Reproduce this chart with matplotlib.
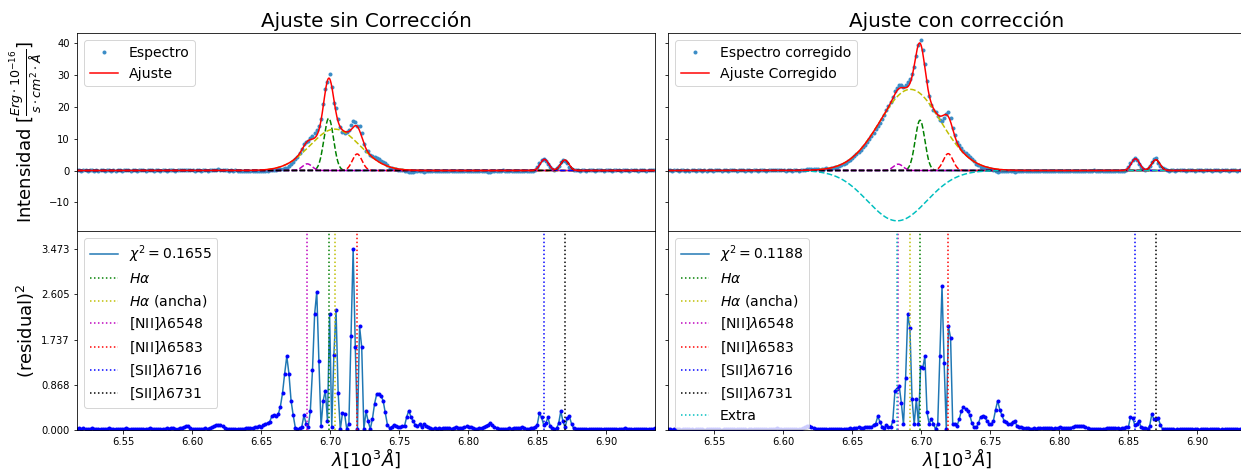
import numpy as np
import matplotlib
matplotlib.use("Agg")
import matplotlib.pyplot as plt

# Wavelength grid of the spectrum (units of 10^3 Angstrom)
lam_min, lam_max, n_pix = 6.5167, 6.9355, 271

line_labels = [r"$H\alpha$", r"$H\alpha$ (ancha)", r"[NII]$\lambda$6548",
               r"[NII]$\lambda$6583", r"[SII]$\lambda$6716", r"[SII]$\lambda$6731", "Extra"]
line_colors = ["g", "y", "m", "r", "b", "k", "c"]

# Gaussian components of the fit without correction
cen_sin = [6.6991, 6.7035, 6.6835, 6.7197, 6.8554, 6.8701]
amp_sin = [16.4, 13.0, 2.1, 5.2, 3.5, 3.3]
sig_sin = [0.0035, 0.0180, 0.0035, 0.0035, 0.0030, 0.0030]

# Gaussian components of the corrected fit (last one is the extra component)
cen_con = [6.6993, 6.6923, 6.6835, 6.7197, 6.8554, 6.8701, 6.6827]
amp_con = [15.8, 25.5, 2.0, 5.3, 3.7, 3.4, -15.8]
sig_con = [0.0035, 0.0220, 0.0035, 0.0035, 0.0030, 0.0030, 0.0214]

# Residuals (spectrum - fit) per pixel, uncorrected fit
resid_sin = [
    0.15, 0.17, -0.12, 0.18, 0.16, -0.14, 0.13, 0.17, -0.15, 0.12,
    -0.16, 0.14, 0.12, -0.10, 0.15, 0.17, -0.13, 0.12, -0.14, 0.11,
    0.13, -0.12, 0.15, 0.18, 0.14, -0.12, 0.10, 0.13, -0.15, 0.12,
    0.16, 0.12, -0.14, 0.15, 0.18, 0.16, -0.12, 0.11, 0.13, -0.10,
    0.12, 0.15, -0.17, 0.16, 0.19, 0.18, -0.15, 0.14, 0.17, 0.21,
    0.24, 0.27, 0.26, 0.21, 0.15, -0.13, 0.12, 0.16, -0.14, 0.15,
    0.17, -0.16, 0.19, 0.22, 0.27, 0.31, 0.32, 0.30, 0.26, 0.20,
    0.15, -0.12, 0.13, -0.11, 0.12, -0.14, -0.15, -0.12, -0.16, -0.18,
    -0.17, -0.20, -0.19, -0.22, -0.24, -0.26, -0.25, -0.30, -0.35, -0.36,
    -0.40, -0.51, -0.54, -0.51, -0.55, -0.67, -0.84, -1.04, -1.19, -1.04,
    -0.75, -0.53, -0.20, -0.10, 0.17, 0.24, 0.53, 0.35, -0.22, 0.61,
    1.07, 1.49, 1.63, 1.15, 0.28, 0.75, 0.87, -0.42, 1.49, -0.24,
    -1.20, 1.52, 0.84, 0.10, -0.57, -0.56, 0.14, 0.35, 1.34, 1.8637,
    1.26, 0.14, 1.41, 1.26, -0.10, -0.60, 0.41, 0.14, 0.46, 0.71,
    0.83, 0.83, 0.81, 0.75, 0.58, 0.32, -0.20, -0.22, -0.32, -0.28,
    -0.22, -0.24, -0.26, -0.28, -0.50, -0.61, -0.50, -0.41, -0.32, -0.28,
    -0.33, -0.22, -0.35, -0.26, -0.22, -0.17, -0.16, -0.18, -0.15, -0.17,
    -0.16, -0.19, -0.20, -0.18, -0.17, -0.16, -0.20, -0.22, -0.20, -0.18,
    -0.20, -0.24, -0.26, -0.25, -0.22, -0.18, -0.16, -0.15, -0.17, -0.20,
    -0.24, -0.28, -0.32, -0.36, -0.30, -0.24, -0.18, -0.14, -0.12, 0.11,
    -0.13, -0.15, -0.17, -0.16, -0.20, -0.18, -0.19, -0.17, -0.22, -0.20,
    -0.16, -0.14, -0.18, -0.20, -0.24, 0.32, 0.57, 0.49, 0.32, -0.37,
    -0.49, -0.28, -0.17, -0.14, 0.17, 0.36, 0.60, 0.41, -0.22, -0.47,
    -0.51, -0.35, -0.17, 0.12, 0.15, -0.13, 0.11, 0.14, -0.10, 0.12,
    0.15, 0.13, -0.12, 0.16, 0.14, 0.12, -0.15, 0.13, 0.11, 0.14,
    -0.12, 0.16, 0.13, 0.12, -0.14, 0.15, 0.17, 0.13, -0.11, 0.12,
    0.15, 0.14, -0.16, 0.13, 0.15, 0.12, -0.14, 0.16, 0.13, 0.15, 0.17,
]

# Residuals (corrected spectrum - corrected fit) per pixel
resid_con = [
    0.10, 0.12, -0.09, 0.11, 0.13, -0.10, 0.09, 0.12, -0.11, 0.10,
    -0.12, 0.11, 0.09, -0.10, 0.12, 0.13, -0.10, 0.09, -0.11, 0.10,
    0.11, -0.10, 0.12, 0.13, 0.11, -0.09, 0.10, 0.12, -0.11, 0.10,
    0.12, 0.10, -0.11, 0.12, 0.14, 0.12, -0.10, 0.09, 0.11, -0.10,
    0.10, 0.12, -0.13, 0.12, 0.14, 0.13, -0.12, 0.11, 0.13, 0.15,
    0.16, 0.17, 0.15, 0.13, 0.11, -0.10, 0.10, 0.12, -0.11, 0.12,
    0.13, -0.12, 0.15, 0.18, 0.22, 0.26, 0.27, 0.24, 0.20, 0.16,
    0.12, -0.10, 0.11, -0.10, 0.10, -0.11, -0.12, -0.10, -0.12, -0.13,
    -0.12, -0.14, -0.13, -0.15, -0.16, -0.17, -0.16, -0.18, -0.20, -0.22,
    -0.20, -0.18, -0.22, -0.24, -0.24, -0.22, -0.32, -0.35, -0.51, -0.40,
    -0.24, -0.20, 0.30, 0.24, 0.22, 0.41, 0.86, 0.89, 0.92, 0.72,
    0.33, 1.00, 1.49, 1.40, 0.77, -0.33, -0.77, -0.33, 1.10, 1.09,
    1.19, 0.58, -0.35, -0.45, -0.35, 0.10, -0.35, -1.19, -1.66, -1.13,
    0.10, 1.41, 1.33, 0.33, 0.35, 0.28, 0.45, 0.60, 0.66, 0.64,
    0.60, 0.53, 0.36, 0.22, -0.22, -0.36, -0.50, -0.52, -0.49, -0.42,
    -0.35, -0.33, -0.42, -0.62, -0.75, -0.62, -0.53, -0.42, -0.39, -0.35,
    -0.35, -0.39, -0.41, -0.28, -0.24, -0.24, -0.20, -0.18, -0.17, -0.16,
    -0.15, -0.17, -0.16, -0.18, -0.19, -0.20, -0.18, -0.17, -0.19, -0.20,
    -0.16, -0.18, -0.19, -0.22, -0.20, -0.18, -0.17, -0.19, -0.21, -0.24,
    -0.26, -0.27, -0.28, -0.29, -0.26, -0.22, -0.18, -0.15, -0.13, 0.11,
    -0.12, -0.14, -0.13, -0.15, -0.16, -0.18, -0.17, -0.19, -0.20, -0.18,
    -0.17, -0.15, -0.18, -0.20, -0.22, 0.22, 0.49, 0.48, 0.32, -0.35,
    -0.42, -0.22, -0.17, -0.17, -0.16, 0.28, 0.55, 0.45, 0.45, -0.47,
    -0.32, -0.14, 0.12, 0.10, -0.11, 0.12, 0.10, -0.09, 0.11, 0.10,
    0.12, 0.10, -0.11, 0.13, 0.11, 0.10, -0.12, 0.11, 0.09, 0.12,
    -0.10, 0.13, 0.11, 0.10, -0.12, 0.13, 0.14, 0.11, -0.09, 0.10,
    0.12, 0.11, -0.13, 0.10, 0.12, 0.10, -0.11, 0.13, 0.11, 0.12, 0.14,
]

chi2_sin = 0.1655
chi2_con = 0.1188

lam = np.linspace(lam_min, lam_max, n_pix)
lam_fine = np.linspace(lam_min, lam_max, 3000)


def gauss(x, a, c, s):
    return a * np.exp(-0.5 * ((x - c) / s) ** 2)


W = 578 / 1241
fig = plt.figure(figsize=(1241 / 72, 470 / 72), dpi=72)
ax_tl = fig.add_axes([77 / 1241, 1 - 231 / 470, W, 198 / 470])
ax_bl = fig.add_axes([77 / 1241, 1 - 430 / 470, W, 199 / 470], sharex=ax_tl)
ax_tr = fig.add_axes([668 / 1241, 1 - 231 / 470, W, 198 / 470], sharex=ax_tl, sharey=ax_tl)
ax_br = fig.add_axes([668 / 1241, 1 - 430 / 470, W, 199 / 470], sharex=ax_tl, sharey=ax_bl)


def draw_top(ax, cen, amp, sig, resid, n_fit, lab_data, lab_fit):
    comps = [gauss(lam_fine, a, c, s) for a, c, s in zip(amp, cen, sig)]
    fit_fine = np.sum(comps[:n_fit], axis=0)
    fit_pix = np.sum([gauss(lam, a, c, s) for a, c, s in
                      zip(amp[:n_fit], cen[:n_fit], sig[:n_fit])], axis=0)
    data = fit_pix + np.asarray(resid)
    ax.plot(lam, data, ".", color="#3a8cc6", label=lab_data)
    for comp, col in zip(comps, line_colors):
        ax.plot(lam_fine, comp, "--", color=col)
    ax.plot(lam_fine, fit_fine, color="r", label=lab_fit)
    ax.legend(loc="upper left", fontsize=14)


def draw_bottom(ax, cen, resid, chi2):
    r2 = np.asarray(resid) ** 2
    ax.plot(lam, r2, color="C0", label=r"$\chi^2 = {:.4f}$".format(chi2))
    ax.plot(lam, r2, "b.")
    for c, col, lab in zip(cen, line_colors, line_labels):
        ax.axvline(c, color=col, ls=":", label=lab)
    ax.legend(loc="upper left", fontsize=14)
    ax.set_xlabel(r"$\lambda[10^3\AA]$", fontsize=18, labelpad=-1)


draw_top(ax_tl, cen_sin, amp_sin, sig_sin, resid_sin, 6, "Espectro", "Ajuste")
draw_top(ax_tr, cen_con, amp_con, sig_con, resid_con, 6, "Espectro corregido", "Ajuste Corregido")
draw_bottom(ax_bl, cen_sin, resid_sin, chi2_sin)
draw_bottom(ax_br, cen_con, resid_con, chi2_con)

ax_tl.set_title("Ajuste sin Corrección", fontsize=20)
ax_tr.set_title("Ajuste con corrección", fontsize=20)
ax_tl.set_ylabel(r"Intensidad [$\frac{Erg\cdot10^{-16}}{s\cdot cm^2\cdot\AA}$]", fontsize=18)
ax_bl.set_ylabel(r"(residual)$^2$", fontsize=18)

ax_tl.set_xlim(lam_min, lam_max)
ax_tl.set_xticks([6.55, 6.60, 6.65, 6.70, 6.75, 6.80, 6.85, 6.90])
ax_tl.set_ylim(-19, 43.2)
ax_tl.set_yticks([-10, 0, 10, 20, 30, 40])

r2_max = np.max(np.asarray(resid_sin) ** 2)
ax_bl.set_ylim(0, 1.1 * r2_max)
ticks = np.linspace(0, r2_max, 5)
ax_bl.set_yticks(ticks)
ax_bl.set_yticklabels(["{:.3f}".format(t) for t in ticks])

for ax in (ax_tl, ax_tr):
    ax.tick_params(labelbottom=False)
for ax in (ax_tr, ax_br):
    ax.tick_params(labelleft=False)

fig.savefig("out.png", dpi=72)
